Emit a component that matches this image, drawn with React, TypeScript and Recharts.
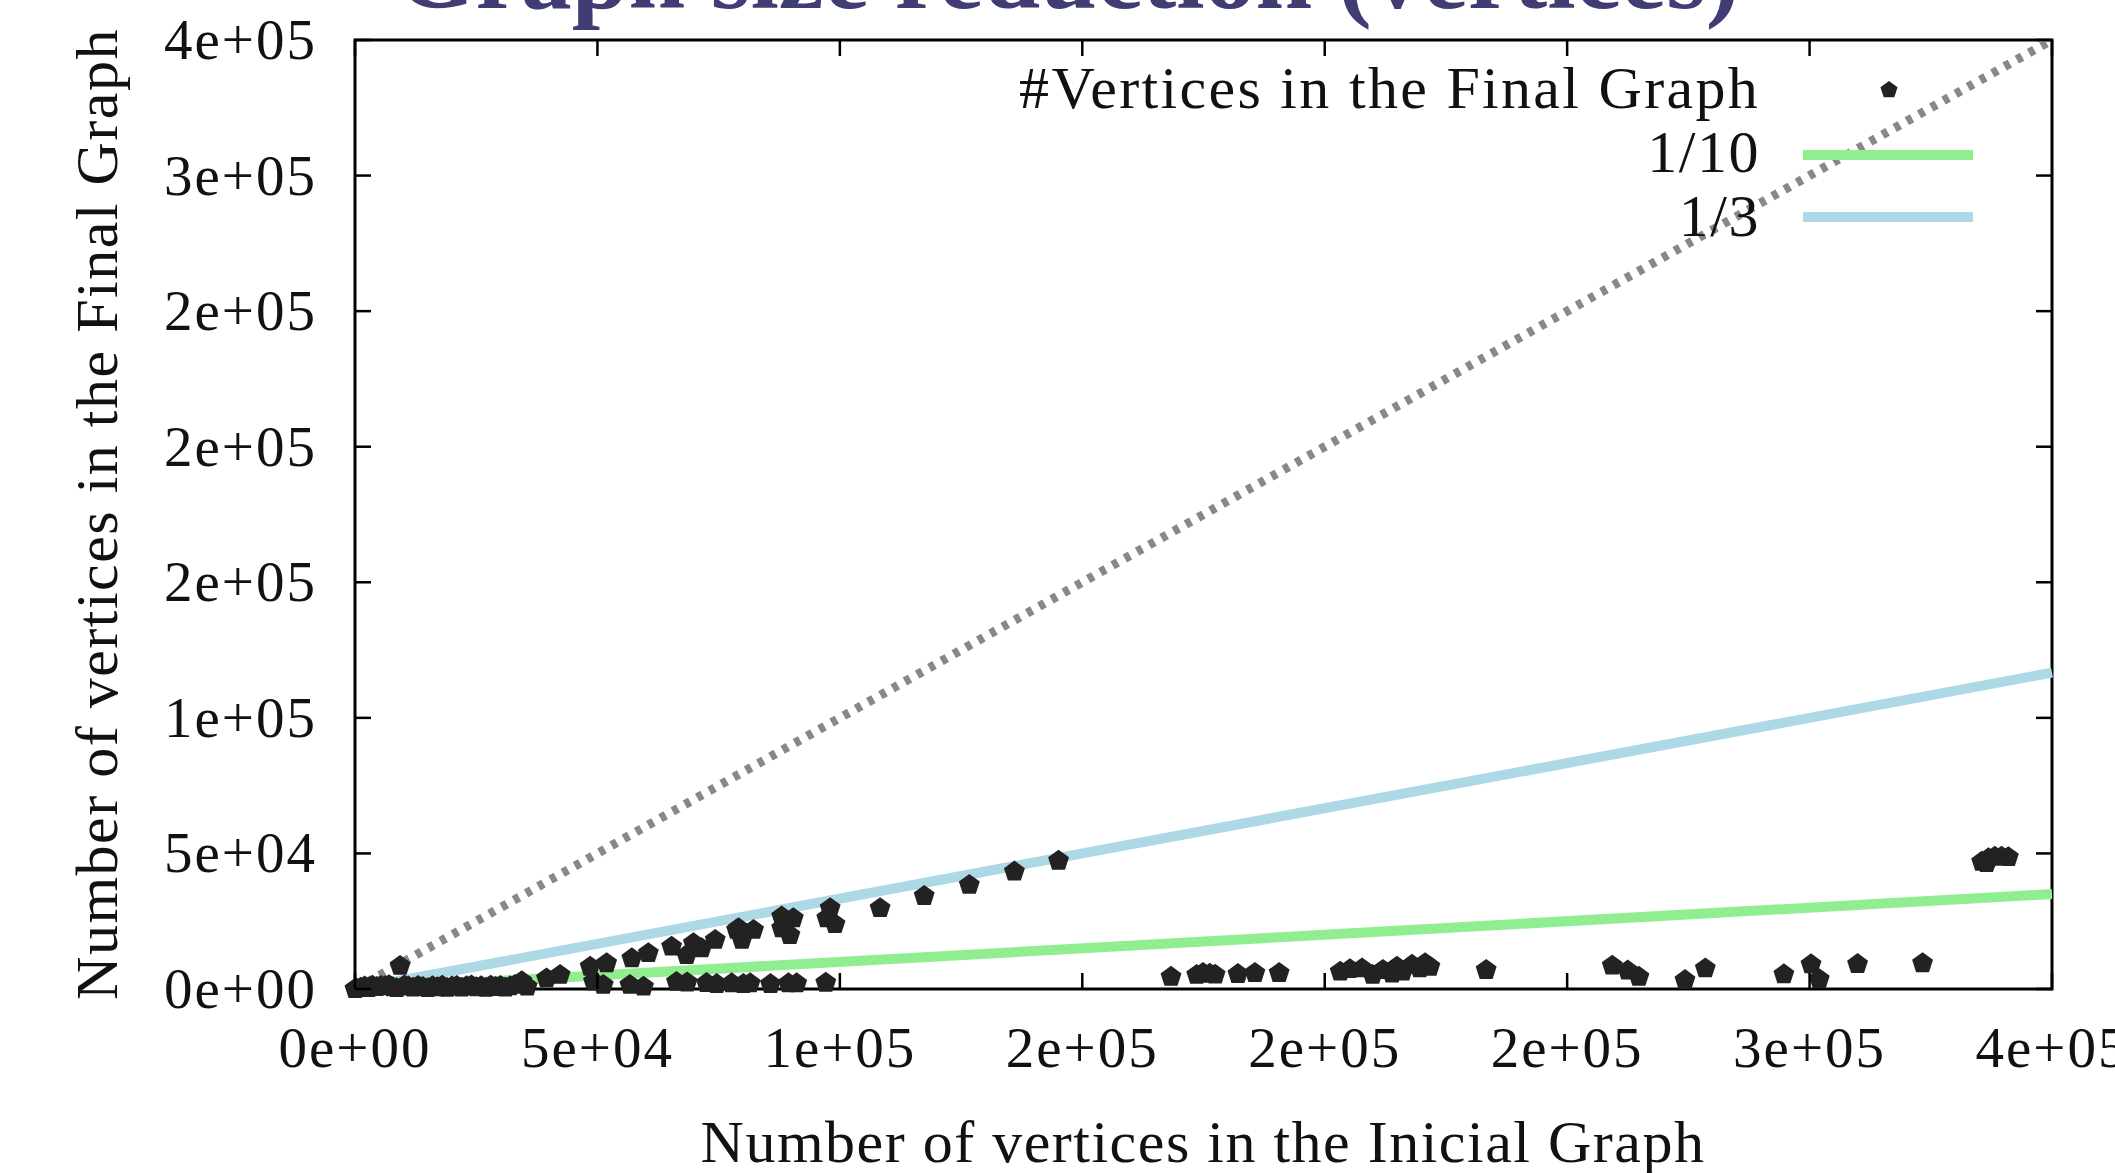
import React from 'react';
import {
  ReferenceArea,
  ReferenceLine,
  Scatter,
  ScatterChart,
  XAxis,
  YAxis,
} from 'recharts';

// initial vs final vertex counts
const initialVertices = [
  0, 300, 1200, 2000, 2800, 3600, 4500, 5300, 6200, 7000, 7800, 8600, 9300,
  10200, 11000, 12000, 13000, 14000, 15000, 16000, 17000, 18000, 19000, 20000,
  21000, 22000, 23000, 24000, 25000, 26000, 27000, 28000, 29000, 30000, 31000,
  32000, 33000, 34400, 35500, 39500, 42300, 48500, 51900, 49200, 51200, 57100,
  60500, 56700, 59500, 65300, 69800, 74300, 68400, 71500, 78700, 79100, 82200,
  79800, 88000, 90400, 88000, 89700, 98000, 97300, 99000, 108300, 117400,
  126700, 136000, 145100, 66300, 68500, 72500, 74600, 77700, 80100, 81500,
  85700, 89400, 91100, 97100, 168300, 173600, 174900, 176300, 177400, 182100,
  185600, 190600, 203200, 205200, 207700, 209900, 212000, 213900, 214900,
  216100, 218000, 219600, 220700, 221700, 233300, 259300, 262500, 264800,
  274300, 278500, 294700, 300300, 302000, 309900, 323300, 335500, 336900,
  338200, 339600, 341000, 336500,
];
const finalVertices = [
  0, 200, 500, 900, 300, 1200, 700, 1100, 1000, 1400, 600, 300, 8500, 1300,
  900, 500, 1100, 700, 300, 1000, 600, 1200, 400, 900, 1100, 500, 1000, 1300,
  600, 1000, 400, 1200, 700, 1100, 500, 1000, 1500, 2900, 900, 3900, 5200,
  8200, 9500, 2700, 1500, 11300, 13200, 1500, 850, 15600, 16900, 18100, 12500,
  15000, 21800, 22400, 21800, 18100, 26700, 26100, 22400, 19900, 29800, 26100,
  23900, 29800, 34300, 38400, 43300, 47300, 2600, 2400, 2200, 1800, 2100, 1800,
  2100, 1800, 2100, 2100, 2300, 4500, 5200, 5900, 5600, 5300, 5500, 5900,
  5900, 6400, 7300, 7600, 5200, 7000, 5700, 8200, 6400, 8900, 7600, 9500,
  8200, 7000, 8600, 6800, 4500, 3300, 7600, 5400, 9100, 3600, 9200, 9500,
  46900, 48200, 48800, 48800, 48600, 46400,
];

const axisTicks = [0, 50000, 100000, 150000, 200000, 250000, 300000, 350000];
const tickLabels = ['0e+00', '5e+04', '1e+05', '2e+05', '2e+05', '2e+05', '3e+05', '4e+05'];
const axisMax = 350000;

const ratioNames = ['1/10', '1/3'];
const ratioValues = [1 / 10, 1 / 3];
const ratioColors = ['#90ee90', '#add8e6'];

const scatterData = initialVertices.map((x, i) => ({ x, y: finalVertices[i] }));

const W = 2115;
const H = 1173;
const PLOT_W = 1697;
const PLOT_H = 949;
const FONT = '"Liberation Serif", "Times New Roman", serif';
const TICK_LEN = 16;

const pentagon = (cx: number, cy: number, r: number) =>
  Array.from({ length: 5 }, (_, i) => {
    const a = -Math.PI / 2 + (i * 2 * Math.PI) / 5;
    return `${cx + r * Math.cos(a)},${cy + r * Math.sin(a)}`;
  }).join(' ');

const PentagonDot = (props: any) => {
  const { cx, cy } = props;
  if (cx == null || cy == null) return null;
  return <polygon points={pentagon(cx, cy, 11)} fill="#222222" />;
};

const XTick = (props: any) => {
  const { x, y, index } = props;
  return (
    <g>
      <line x1={x} y1={y} x2={x} y2={y - TICK_LEN} stroke="#000" strokeWidth={2.5} />
      <line x1={x} y1={y - PLOT_H} x2={x} y2={y - PLOT_H + TICK_LEN} stroke="#000" strokeWidth={2.5} />
      <text
        x={x}
        y={y + 78}
        textAnchor="middle"
        fontFamily={FONT}
        fontSize={57}
        letterSpacing={2}
        fill="#111"
      >
        {tickLabels[index]}
      </text>
    </g>
  );
};

const YTick = (props: any) => {
  const { x, y, index } = props;
  return (
    <g>
      <line x1={x} y1={y} x2={x + TICK_LEN} y2={y} stroke="#000" strokeWidth={2.5} />
      <line x1={x + PLOT_W} y1={y} x2={x + PLOT_W - TICK_LEN} y2={y} stroke="#000" strokeWidth={2.5} />
      <text
        x={x - 38}
        y={y + 19}
        textAnchor="end"
        fontFamily={FONT}
        fontSize={57}
        letterSpacing={2}
        fill="#111"
      >
        {tickLabels[index]}
      </text>
    </g>
  );
};

export default function App() {
  const labelStyle = { fontFamily: FONT, fontSize: 60, letterSpacing: 1.5, fill: '#111' };
  return (
    <div style={{ position: 'absolute', left: 0, top: 0, width: W, height: H, background: '#fff' }}>
      <ScatterChart width={W} height={H} margin={{ top: 40, right: 63, left: 0, bottom: 0 }}>
        <XAxis
          type="number"
          dataKey="x"
          domain={[0, axisMax]}
          ticks={axisTicks}
          height={184}
          axisLine={false}
          tickLine={false}
          tickSize={0}
          tickMargin={0}
          tick={<XTick />}
          interval={0}
        />
        <YAxis
          type="number"
          dataKey="y"
          domain={[0, axisMax]}
          ticks={axisTicks}
          width={355}
          axisLine={false}
          tickLine={false}
          tickSize={0}
          tickMargin={0}
          tick={<YTick />}
          interval={0}
        />
        <ReferenceLine
          segment={[{ x: 0, y: 0 }, { x: axisMax, y: axisMax }]}
          stroke="#888888"
          strokeWidth={9}
          strokeDasharray="6 8"
        />
        {ratioValues.map((r, i) => (
          <ReferenceLine
            key={ratioNames[i]}
            segment={[{ x: 0, y: 0 }, { x: axisMax, y: axisMax * r }]}
            stroke={ratioColors[i]}
            strokeWidth={10}
          />
        ))}
        <ReferenceArea
          x1={0}
          x2={axisMax}
          y1={0}
          y2={axisMax}
          fill="none"
          fillOpacity={0}
          stroke="#000"
          strokeWidth={3}
        />
        <Scatter
          name="#Vertices in the Final Graph"
          data={scatterData}
          shape={<PentagonDot />}
          isAnimationActive={false}
        />
      </ScatterChart>
      <svg
        width={W}
        height={H}
        style={{ position: 'absolute', left: 0, top: 0, pointerEvents: 'none' }}
      >
        <text
          x={1068}
          y={8}
          textAnchor="middle"
          fontFamily={FONT}
          fontWeight="bold"
          fontSize={102}
          fill="#3f3d74"
        >
          Graph size reduction (vertices)
        </text>
        <text
          transform="translate(97,514) rotate(-90)"
          textAnchor="middle"
          dominantBaseline="central"
          {...labelStyle}
        >
          Number of vertices in the Final Graph
        </text>
        <text x={1203} y={1162} textAnchor="middle" {...labelStyle}>
          Number of vertices in the Inicial Graph
        </text>
        <text
          x={1760}
          y={88}
          dominantBaseline="central"
          textAnchor="end"
          {...labelStyle}
          letterSpacing={2.3}
        >
          #Vertices in the Final Graph
        </text>
        <polygon points={pentagon(1889, 90, 9)} fill="#222222" />
        {ratioNames.map((name, i) => (
          <g key={name}>
            <text
              x={1760}
              y={152 + i * 64}
              dominantBaseline="central"
              textAnchor="end"
              {...labelStyle}
            >
              {name}
            </text>
            <line
              x1={1803}
              x2={1973}
              y1={155 + i * 62}
              y2={155 + i * 62}
              stroke={ratioColors[i]}
              strokeWidth={10}
            />
          </g>
        ))}
      </svg>
    </div>
  );
}
